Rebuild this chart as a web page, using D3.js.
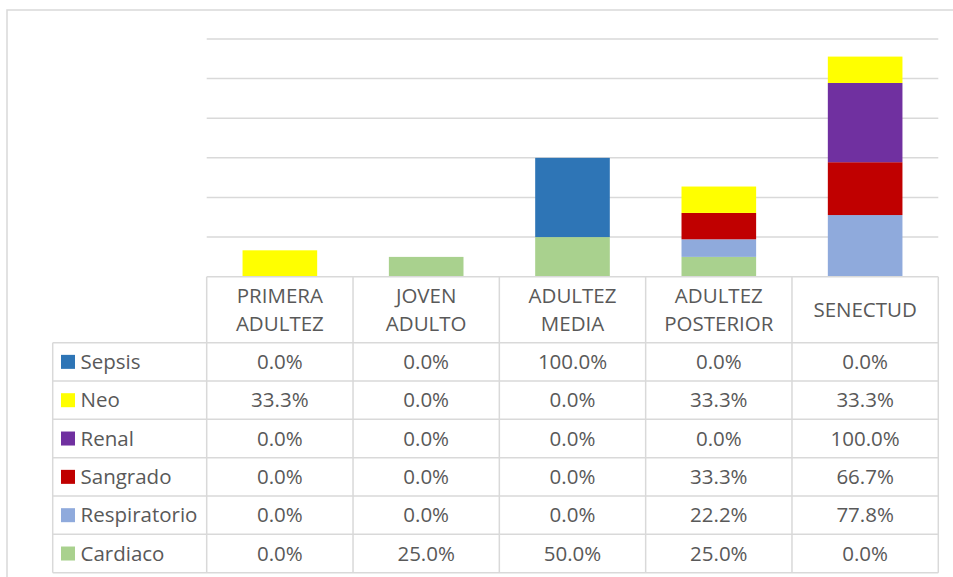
<!DOCTYPE html>
<html>
<head>
<meta charset="utf-8">
<script src="https://cdn.jsdelivr.net/npm/d3@7"></script>
<style>
  body { margin: 0; background: #fff; }
  text { font-family: "Open Sans", sans-serif; fill: #595959; }
</style>
</head>
<body>
<svg width="953" height="577"></svg>
<script>
// categories (x axis / table columns)
const categories = [
  ["PRIMERA", "ADULTEZ"],
  ["JOVEN", "ADULTO"],
  ["ADULTEZ", "MEDIA"],
  ["ADULTEZ", "POSTERIOR"],
  ["SENECTUD"]
];

// series, listed in stack order (bottom first)
const seriesNames = ["Cardiaco", "Respiratorio", "Sangrado", "Renal", "Neo", "Sepsis"];
const seriesColors = ["#a9d18e", "#8faadc", "#c00000", "#7030a0", "#ffff00", "#2e75b6"];

const cardiaco     = [0.0, 25.0, 50.0, 25.0, 0.0];
const respiratorio = [0.0, 0.0, 0.0, 22.2, 77.8];
const sangrado     = [0.0, 0.0, 0.0, 33.3, 66.7];
const renal        = [0.0, 0.0, 0.0, 0.0, 100.0];
const neo          = [33.3, 0.0, 0.0, 33.3, 33.3];
const sepsis       = [0.0, 0.0, 100.0, 0.0, 0.0];

const yTicks = [0, 50, 100, 150, 200, 250, 300];

const seriesValues = [cardiaco, respiratorio, sangrado, renal, neo, sepsis];

var svg = d3.select("svg");

// outer chart frame
svg.append("rect")
   .attr("x", 7).attr("y", 10)
   .attr("width", 960).attr("height", 580)
   .attr("fill", "none")
   .attr("stroke", "#d9d9d9")
   .attr("stroke-width", 1.5);

const plotLeft = 206.7, plotRight = 938.3,
      plotTop = 39, base = 276.7,
      headerH = 66, rowH = 38.33,
      tableLeft = 52.7,
      fontSize = 20.5;

var keys = categories.map((c, i) => i);

var x = d3.scaleBand()
          .domain(keys)
          .range([plotLeft, plotRight])
          .paddingInner(0.49)
          .paddingOuter(0.245);

var xCol = d3.scaleBand()
             .domain(keys)
             .range([plotLeft, plotRight]);

var y = d3.scaleLinear()
          .domain([0, 300])
          .range([base, plotTop]);

// gridlines
svg.append("g")
   .selectAll("line")
   .data(yTicks.slice(1))
   .enter().append("line")
   .attr("x1", plotLeft).attr("x2", plotRight)
   .attr("y1", d => y(d)).attr("y2", d => y(d))
   .attr("stroke", "#d9d9d9")
   .attr("stroke-width", 1.5);

// stacked bars
var rows = keys.map(i => {
  var o = {};
  seriesNames.forEach((s, j) => o[s] = seriesValues[j][i]);
  o.key = i;
  return o;
});

var stacked = d3.stack().keys(seriesNames)(rows);

svg.append("g")
   .selectAll("g")
   .data(stacked)
   .enter().append("g")
   .attr("fill", (d, i) => seriesColors[i])
   .selectAll("rect")
   .data(d => d)
   .enter().append("rect")
   .attr("x", d => x(d.data.key))
   .attr("width", x.bandwidth())
   .attr("y", d => y(d[1]))
   .attr("height", d => y(d[0]) - y(d[1]));

// data table
var table = svg.append("g");
var lineColor = "#d9d9d9";

function hline(x1, x2, yy) {
  table.append("line")
       .attr("x1", x1).attr("x2", x2)
       .attr("y1", yy).attr("y2", yy)
       .attr("stroke", lineColor).attr("stroke-width", 1.5);
}
function vline(xx, y1, y2) {
  table.append("line")
       .attr("x1", xx).attr("x2", xx)
       .attr("y1", y1).attr("y2", y2)
       .attr("stroke", lineColor).attr("stroke-width", 1.5);
}

var rowTop = base + headerH;
var tableBottom = rowTop + rowH * seriesNames.length;

hline(plotLeft, plotRight, base);
for (var r = 0; r <= seriesNames.length; r++) hline(tableLeft, plotRight, rowTop + r * rowH);
vline(tableLeft, rowTop, tableBottom);
keys.forEach(k => vline(xCol(k), base, tableBottom));
vline(plotRight, base, tableBottom);

// header labels
keys.forEach(k => {
  var lines = categories[k];
  var cx = xCol(k) + xCol.bandwidth() / 2;
  var cy = base + headerH / 2;
  lines.forEach((t, li) => {
    table.append("text")
         .attr("x", cx)
         .attr("y", cy + (li - (lines.length - 1) / 2) * 28.5)
         .attr("dy", "0.35em")
         .attr("text-anchor", "middle")
         .attr("font-size", fontSize)
         .text(t);
  });
});

// rows: Sepsis on top, Cardiaco at bottom
var tableOrder = seriesNames.map((s, i) => i).reverse();

tableOrder.forEach((si, ri) => {
  var cy = rowTop + ri * rowH + rowH / 2;
  table.append("rect")
       .attr("x", 61).attr("y", cy - 7)
       .attr("width", 14).attr("height", 14)
       .attr("fill", seriesColors[si]);
  table.append("text")
       .attr("x", 80.5)
       .attr("y", cy)
       .attr("dy", "0.35em")
       .attr("font-size", fontSize)
       .text(seriesNames[si]);
  keys.forEach(k => {
    table.append("text")
         .attr("x", xCol(k) + xCol.bandwidth() / 2)
         .attr("y", cy)
         .attr("dy", "0.35em")
         .attr("text-anchor", "middle")
         .attr("font-size", fontSize)
         .text(d3.format(".1f")(seriesValues[si][k]) + "%");
  });
});
</script>
</body>
</html>
